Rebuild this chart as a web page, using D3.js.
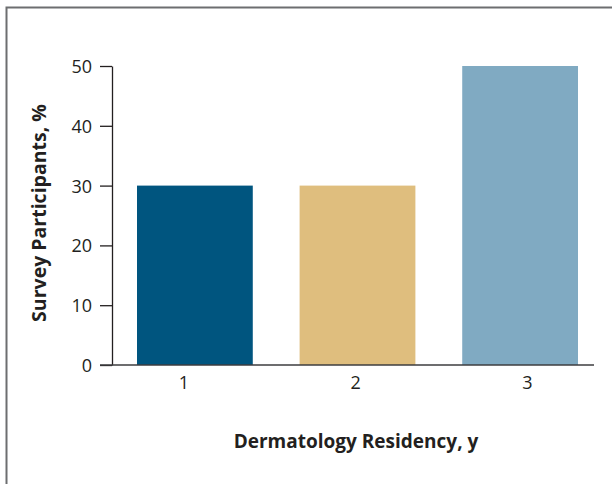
<!DOCTYPE html>
<html>
<head>
<meta charset="utf-8">
<script src="https://cdn.jsdelivr.net/npm/d3@7"></script>
<style>
  html, body { margin: 0; padding: 0; background: #fff; }
  svg { display: block; }
</style>
</head>
<body>
<svg id="chart" width="612" height="484"></svg>
<script>
// Years of dermatology residency and share of survey participants (%)
const categories = ["1", "2", "3"];
const participants = [30, 30, 50];
const barColors = ["#00557f", "#dfbe7e", "#80aac2"];
const yTicks = [0, 10, 20, 30, 40, 50];

const FONT = "'Open Sans', sans-serif";
const INK = "#231f20";

const svg = d3.select("#chart");

// Panel frame (top and left rules)
svg.append("path")
  .attr("d", "M6.5,484 V7.5 H612")
  .attr("fill", "none")
  .attr("stroke", "#6d6e70")
  .attr("stroke-width", 2);

const plot = { left: 112, right: 594, top: 66, bottom: 365 };

const y = d3.scaleLinear().domain([0, 50]).range([plot.bottom, plot.top]);

const x = d3.scaleBand()
  .domain(categories)
  .range([137, 578])
  .paddingInner(0.288)
  .paddingOuter(0);

// Tick label positions along the category axis
const xLabel = d3.scalePoint().domain(categories).range([183.5, 527]);

// Bars
svg.append("g").selectAll("rect")
  .data(participants)
  .join("rect")
  .attr("x", (d, i) => x(categories[i]))
  .attr("y", d => y(d))
  .attr("width", x.bandwidth())
  .attr("height", d => y(0) - y(d))
  .attr("fill", (d, i) => barColors[i]);

// Y axis
const yAxis = svg.append("g")
  .attr("transform", `translate(${plot.left},0)`)
  .call(d3.axisLeft(y).tickValues(yTicks).tickSize(12).tickPadding(8).tickSizeOuter(0));
yAxis.select(".domain").attr("stroke", INK).attr("stroke-width", 1.3);
yAxis.selectAll(".tick line").attr("stroke", INK).attr("stroke-width", 1.3);
yAxis.selectAll(".tick text")
  .attr("font-family", FONT).attr("font-size", 18).attr("fill", INK)
  .attr("dy", "0.36em");

// X baseline
svg.append("line")
  .attr("x1", plot.left - 12).attr("x2", plot.right)
  .attr("y1", y(0)).attr("y2", y(0))
  .attr("stroke", "#3d3d3f").attr("stroke-width", 1.3);

// X tick labels
const xAxis = svg.append("g")
  .attr("transform", `translate(0,${y(0)})`)
  .call(d3.axisBottom(xLabel).tickSize(0).tickPadding(11));
xAxis.select(".domain").remove();
xAxis.selectAll(".tick text")
  .attr("font-family", FONT).attr("font-size", 18).attr("fill", INK)
  .attr("dy", "0.71em");

// Axis titles
svg.append("text")
  .attr("x", 356).attr("y", 448)
  .attr("text-anchor", "middle")
  .attr("font-family", FONT).attr("font-weight", 700).attr("font-size", 19).attr("fill", INK)
  .text("Dermatology Residency, y");

svg.append("text")
  .attr("transform", "translate(46,213) rotate(-90)")
  .attr("text-anchor", "middle")
  .attr("font-family", FONT).attr("font-weight", 700).attr("font-size", 19.5).attr("fill", INK)
  .text("Survey Participants, %");
</script>
</body>
</html>
